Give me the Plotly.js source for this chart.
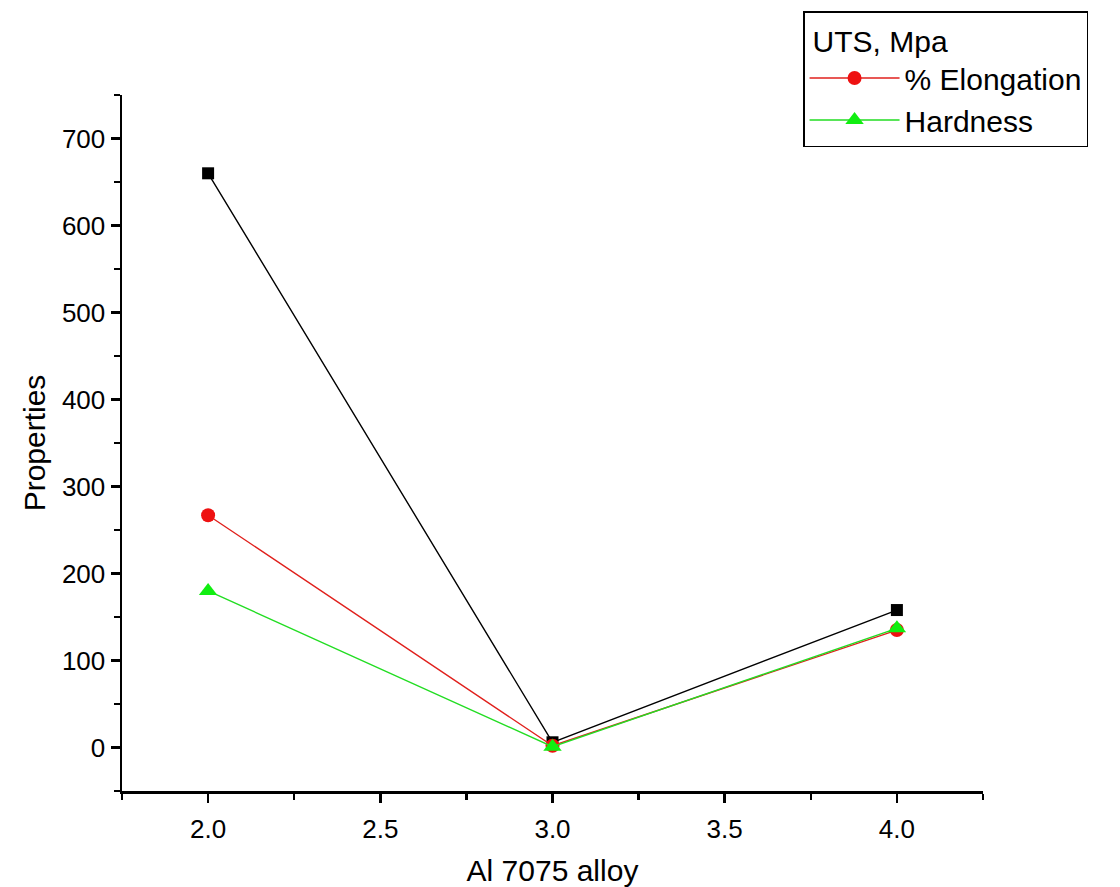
<!DOCTYPE html>
<html>
<head>
<meta charset="utf-8">
<script src="https://cdn.plot.ly/plotly-3.0.1.min.js"></script>
<style>html,body{margin:0;padding:0;background:#fff;}#chart{width:1120px;height:887px;}</style>
</head>
<body>
<div id="chart"></div>
<script>
const alloyX = [2.0, 3.0, 4.0];
const utsMpa = [660, 6, 158];
const elongation = [267, 2, 135];
const hardness = [180, 1, 137];
const yTickVals = [0, 100, 200, 300, 400, 500, 600, 700];
const xTickVals = [2.0, 2.5, 3.0, 3.5, 4.0];

const traces = [
  {x: alloyX, y: utsMpa, name: 'UTS, Mpa', mode: 'lines+markers', showlegend: false,
   line: {color: '#000000', width: 1.4}, marker: {symbol: 'square', size: 12, color: '#000000'}},
  {x: alloyX, y: elongation, name: '% Elongation', mode: 'lines+markers',
   line: {color: '#e0201c', width: 1.4}, marker: {symbol: 'circle', size: 14, color: '#ee1111'}},
  {x: alloyX, y: hardness, name: 'Hardness', mode: 'lines+markers',
   line: {color: '#22dd22', width: 1.4}, marker: {symbol: 'triangle-up', size: 16, color: '#11ee11'}}
];

const fontFam = 'Liberation Sans, Arial, sans-serif';
const layout = {
  width: 1120, height: 887,
  margin: {l: 122, r: 137, t: 92, b: 96},
  paper_bgcolor: '#ffffff', plot_bgcolor: '#ffffff',
  font: {family: fontFam, color: '#000000'},
  showlegend: true,
  legend: {
    x: 0.791, y: 1.12, xanchor: 'left', yanchor: 'top',
    bordercolor: '#000000', borderwidth: 1.5, bgcolor: '#ffffff',
    font: {size: 30, family: fontFam},
    title: {text: '&#8201;UTS, Mpa', side: 'top', font: {size: 30, family: fontFam}},
    tracegroupgap: 0, itemwidth: 90
  },
  xaxis: {
    range: [1.75, 4.25],
    tickvals: xTickVals, tickformat: '.1f',
    ticks: 'outside', ticklen: 9, tickwidth: 2.5, tickcolor: '#000',
    showline: true, linewidth: 2.5, linecolor: '#000',
    showgrid: false, zeroline: false, ticklabelstandoff: 4,
    minor: {dtick: 0.25, tick0: 1.75, ticks: 'outside', ticklen: 6, tickwidth: 2.5, tickcolor: '#000', showgrid: false},
    tickfont: {size: 26, family: fontFam},
    title: {text: 'Al 7075 alloy', font: {size: 30, family: fontFam}, standoff: 20}
  },
  yaxis: {
    range: [-50, 750],
    tickvals: yTickVals,
    ticks: 'outside', ticklen: 9, tickwidth: 2.5, tickcolor: '#000',
    showline: true, linewidth: 2.5, linecolor: '#000',
    showgrid: false, zeroline: false,
    minor: {dtick: 50, tick0: -50, ticks: 'outside', ticklen: 6, tickwidth: 2.5, tickcolor: '#000', showgrid: false},
    tickfont: {size: 26, family: fontFam},
    title: {text: 'Properties', font: {size: 30, family: fontFam}, standoff: 8}
  }
};

Plotly.newPlot('chart', traces, layout, {displayModeBar: false, staticPlot: true});
</script>
</body>
</html>
